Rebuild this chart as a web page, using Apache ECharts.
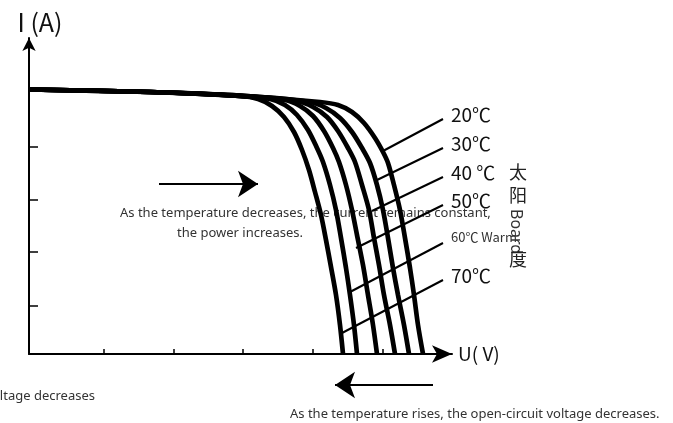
<!DOCTYPE html>
<html>
<head>
<meta charset="utf-8">
<script src="https://cdn.jsdelivr.net/npm/echarts@6/dist/echarts.min.js"></script>
<style>
html,body{margin:0;padding:0;background:#fff;}
#main{width:673px;height:423px;}
</style>
</head>
<body>
<div id="main"></div>
<script>
// ---- data (U in arbitrary volt units, I in arbitrary ampere units) ----
const xTicks = [75, 145, 214, 284, 354];
const yTicks = [48, 102, 154, 207];
const tempLabels = ['20℃', '30℃', '40 ℃', '50℃', '60℃ Warm', '70℃'];

const curve20 = [[0,264.5],[121,262],[211,258.5],[291,252],[309,249],[323,242],[335,231],[346,216],[354,202],[359,191],[365,169],[371,144],[376,116],[381,86],[385,59],[389,29],[394,0]];
const curve30 = [[0,264.5],[121,262],[211,258.5],[281,252],[297,246],[311,236],[323,222],[333,206],[341,191],[348,169],[354,144],[359,116],[364,86],[369,59],[375,29],[380,0]];
const curve40 = [[0,264.5],[121,262],[211,258],[268,253],[284,247],[298,237],[309,223],[319,206],[326,192],[333,169],[340,144],[345,116],[350,89],[355,59],[361,29],[366,0]];
const curve50 = [[0,264.5],[121,262],[211,258],[256,254],[271,248],[284,238],[295,223],[304,206],[310,192],[317,169],[323,144],[328,119],[334,89],[339,59],[344,29],[348,0]];
const curve60 = [[0,264.5],[121,262],[211,258],[241,255],[256,249],[268,239],[279,224],[288,206],[294,192],[301,169],[307,144],[312,116],[317,86],[321,59],[325,29],[328,0]];
const curve70 = [[0,264.5],[121,262],[211,258],[229,255],[243,248],[255,237],[265,222],[273,204],[280,184],[286,162],[292,139],[297,114],[302,87],[307,59],[311,29],[314,0]];

const leader20 = [[354,203],[414,235]];
const leader30 = [[348,174],[414,206]];
const leader40 = [[343,143],[414,177]];
const leader50 = [[327,106],[414,149]];
const leader60 = [[321,62],[414,111]];
const leader70 = [[313,21],[414,74]];

const arrowRight = [[130,170],[229,170]];
const arrowLeft = [[404,-31],[306,-31]];

// ---- chart ----
const chart = echarts.init(document.getElementById('main'));
const curves = [curve20, curve30, curve40, curve50, curve60, curve70];
const leaders = [leader20, leader30, leader40, leader50, leader60, leader70];

const series = [];
curves.forEach((c) => {
  series.push({
    type: 'line', data: c, smooth: 0.3, showSymbol: false, clip: false, silent: true,
    lineStyle: { color: '#000', width: 4.7 }, z: 3
  });
});
leaders.forEach((l, i) => {
  const small = i === 4;
  series.push({
    type: 'line', data: l, showSymbol: false, clip: false, silent: true,
    lineStyle: { color: '#000', width: 2 }, z: 4,
    endLabel: {
      show: true, formatter: tempLabels[i], distance: 8, offset: [0, small ? -6 : -4],
      color: small ? '#333' : '#111',
      fontSize: small ? 13 : 19,
      fontFamily: 'Noto Sans CJK SC'
    }
  });
});
series.push({
  type: 'lines', coordinateSystem: 'cartesian2d', clip: false, silent: true, z: 4,
  symbol: ['none', 'arrow'], symbolSize: [12, 20],
  lineStyle: { color: '#000', width: 2, opacity: 1 },
  data: [
    { coords: arrowRight },
    { coords: arrowLeft }
  ]
});

const txt = { fill: '#333', fontSize: 13, fontFamily: 'Noto Sans' };
chart.setOption({
  backgroundColor: '#fff',
  animation: false,
  grid: { left: 29, right: 221, top: 38, bottom: 69 },
  xAxis: {
    type: 'value', min: 0, max: 423,
    name: 'U( V)', nameLocation: 'end', nameGap: 6,
    nameTextStyle: { fontSize: 19, color: '#111', fontFamily: 'Noto Sans CJK SC' },
    splitLine: { show: false },
    axisLine: { onZero: false, symbol: ['none', 'arrow'], symbolSize: [13, 20], lineStyle: { color: '#000', width: 2 } },
    axisTick: { show: true, inside: true, length: 5, customValues: xTicks, lineStyle: { color: '#000', width: 1.5 } },
    axisLabel: { show: false }
  },
  yAxis: {
    type: 'value', min: 0, max: 316,
    name: 'I (A)', nameLocation: 'end', nameGap: 3,
    nameTextStyle: { fontSize: 25, color: '#111', align: 'center', padding: [0, 0, 0, 22], fontFamily: 'Noto Sans CJK SC' },
    splitLine: { show: false },
    axisLine: { onZero: false, symbol: ['none', 'arrow'], symbolSize: [10, 13], lineStyle: { color: '#000', width: 2 } },
    axisTick: { show: true, inside: true, length: 9, customValues: yTicks, lineStyle: { color: '#000', width: 1.5 } },
    axisLabel: { show: false }
  },
  graphic: [
    { type: 'text', left: 120, top: 207, z: 0, style: Object.assign({ text: 'As the temperature decreases, the current remains constant,' }, txt) },
    { type: 'text', left: 177, top: 227, z: 0, style: Object.assign({ text: 'the power increases.' }, txt) },
    { type: 'text', left: 290, top: 408, z: 0, style: Object.assign({ text: 'As the temperature rises, the open-circuit voltage decreases.' }, txt) },
    { type: 'text', right: 578, top: 390, z: 0, style: Object.assign({ text: 'voltage decreases' }, txt) },
    { type: 'text', left: 509, top: 163, z: 0, style: { text: '太', fill: '#222', fontSize: 18, fontFamily: 'Noto Sans CJK SC' } },
    { type: 'text', left: 509, top: 186, z: 0, style: { text: '阳', fill: '#222', fontSize: 18, fontFamily: 'Noto Sans CJK SC' } },
    { type: 'text', x: 524, y: 209, rotation: -Math.PI / 2, z: 0, style: { text: 'Board', fill: '#333', fontSize: 16, fontFamily: 'Noto Sans' } },
    { type: 'text', left: 509, top: 250, z: 1, style: { text: '度', fill: '#222', fontSize: 18, fontFamily: 'Noto Sans CJK SC' } }
  ],
  series: series
});
</script>
</body>
</html>
